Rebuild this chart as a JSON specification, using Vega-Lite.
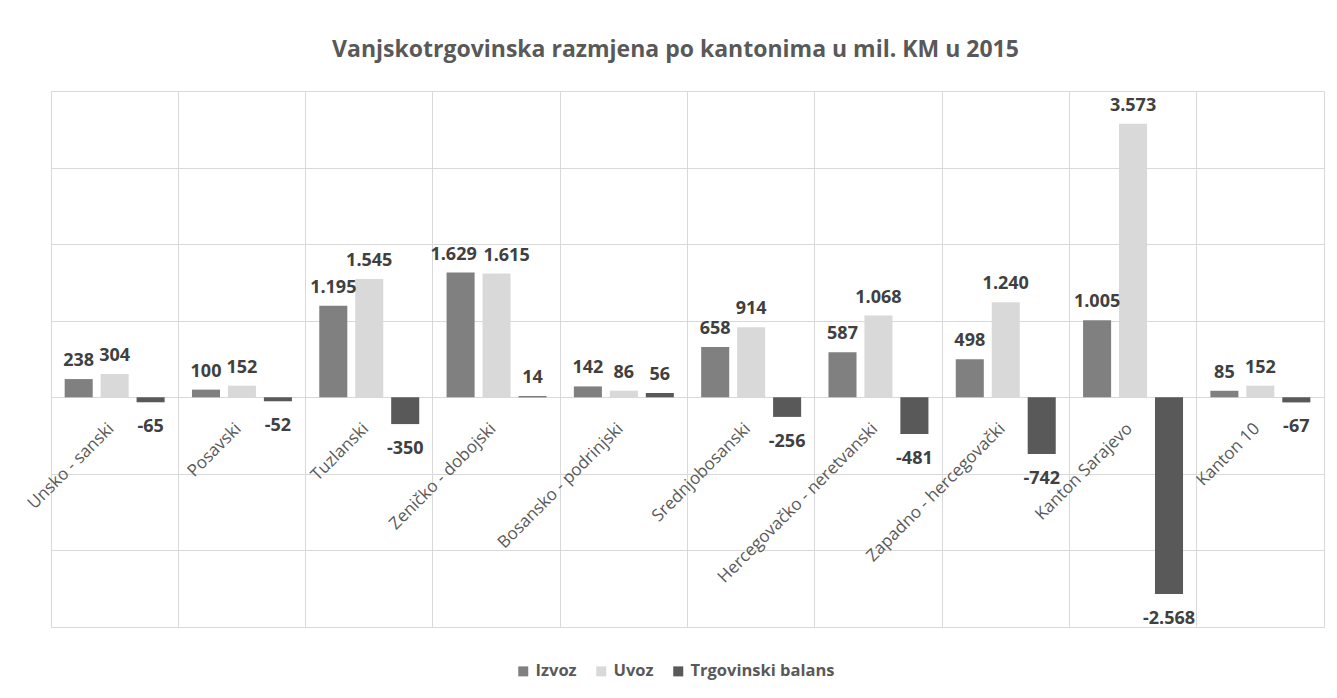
{
  "$schema": "https://vega.github.io/schema/vega-lite/v6.json",
  "width": 1273,
  "height": 536,
  "autosize": {"type": "none"},
  "padding": {"left": 51, "top": 91, "right": 13, "bottom": 71},
  "background": "white",
  "title": {
    "text": "Vanjskotrgovinska razmjena po kantonima u mil. KM u 2015",
    "anchor": "middle",
    "dx": -12,
    "offset": 29,
    "font": "Open Sans",
    "fontSize": 23,
    "fontWeight": "bold",
    "color": "#595959"
  },
  "data": {
    "values": [
      {"kanton": "Unsko - sanski", "serija": "Izvoz", "vrijednost": 238},
      {"kanton": "Unsko - sanski", "serija": "Uvoz", "vrijednost": 304},
      {"kanton": "Unsko - sanski", "serija": "Trgovinski balans", "vrijednost": -65},
      {"kanton": "Posavski", "serija": "Izvoz", "vrijednost": 100},
      {"kanton": "Posavski", "serija": "Uvoz", "vrijednost": 152},
      {"kanton": "Posavski", "serija": "Trgovinski balans", "vrijednost": -52},
      {"kanton": "Tuzlanski", "serija": "Izvoz", "vrijednost": 1195},
      {"kanton": "Tuzlanski", "serija": "Uvoz", "vrijednost": 1545},
      {"kanton": "Tuzlanski", "serija": "Trgovinski balans", "vrijednost": -350},
      {"kanton": "Zeničko - dobojski", "serija": "Izvoz", "vrijednost": 1629},
      {"kanton": "Zeničko - dobojski", "serija": "Uvoz", "vrijednost": 1615},
      {"kanton": "Zeničko - dobojski", "serija": "Trgovinski balans", "vrijednost": 14},
      {"kanton": "Bosansko - podrinjski", "serija": "Izvoz", "vrijednost": 142},
      {"kanton": "Bosansko - podrinjski", "serija": "Uvoz", "vrijednost": 86},
      {"kanton": "Bosansko - podrinjski", "serija": "Trgovinski balans", "vrijednost": 56},
      {"kanton": "Srednjobosanski", "serija": "Izvoz", "vrijednost": 658},
      {"kanton": "Srednjobosanski", "serija": "Uvoz", "vrijednost": 914},
      {"kanton": "Srednjobosanski", "serija": "Trgovinski balans", "vrijednost": -256},
      {"kanton": "Hercegovačko - neretvanski", "serija": "Izvoz", "vrijednost": 587},
      {"kanton": "Hercegovačko - neretvanski", "serija": "Uvoz", "vrijednost": 1068},
      {"kanton": "Hercegovačko - neretvanski", "serija": "Trgovinski balans", "vrijednost": -481},
      {"kanton": "Zapadno - hercegovački", "serija": "Izvoz", "vrijednost": 498},
      {"kanton": "Zapadno - hercegovački", "serija": "Uvoz", "vrijednost": 1240},
      {"kanton": "Zapadno - hercegovački", "serija": "Trgovinski balans", "vrijednost": -742},
      {"kanton": "Kanton Sarajevo", "serija": "Izvoz", "vrijednost": 1005},
      {"kanton": "Kanton Sarajevo", "serija": "Uvoz", "vrijednost": 3573},
      {"kanton": "Kanton Sarajevo", "serija": "Trgovinski balans", "vrijednost": -2568},
      {"kanton": "Kanton 10", "serija": "Izvoz", "vrijednost": 85},
      {"kanton": "Kanton 10", "serija": "Uvoz", "vrijednost": 152},
      {"kanton": "Kanton 10", "serija": "Trgovinski balans", "vrijednost": -67}
    ]
  },
  "encoding": {
    "x": {
      "field": "kanton",
      "type": "nominal",
      "sort": null,
      "scale": {"paddingInner": 0, "paddingOuter": 0},
      "axis": {
        "title": null,
        "orient": "bottom",
        "offset": -230,
        "bandPosition": 0,
        "grid": true,
        "gridColor": "#D9D9D9",
        "gridWidth": 1,
        "ticks": false,
        "domain": true,
        "domainColor": "#D9D9D9",
        "labelAngle": -45,
        "labelAlign": "right",
        "labelBaseline": "top",
        "labelPadding": 23,
        "labelOffset": -9,
        "labelFont": "Open Sans",
        "labelFontSize": 17,
        "labelColor": "#595959",
        "labelBound": false,
        "labelFlush": false,
        "labelOverlap": false,
        "labelLimit": 400
      }
    },
    "xOffset": {
      "field": "serija",
      "type": "nominal",
      "sort": ["Izvoz", "Uvoz", "Trgovinski balans"],
      "scale": {"paddingInner": 0.22, "paddingOuter": 0.38}
    },
    "y": {
      "field": "vrijednost",
      "type": "quantitative",
      "scale": {"domain": [-3000, 4000], "nice": false, "zero": false},
      "axis": {
        "title": null,
        "labels": false,
        "ticks": false,
        "domain": false,
        "values": [-3000, -2000, -1000, 0, 1000, 2000, 3000, 4000],
        "grid": true,
        "gridColor": "#D9D9D9",
        "gridWidth": 1
      }
    }
  },
  "layer": [
    {
      "mark": {"type": "bar"},
      "encoding": {
        "color": {
          "field": "serija",
          "type": "nominal",
          "sort": ["Izvoz", "Uvoz", "Trgovinski balans"],
          "scale": {
            "domain": ["Izvoz", "Uvoz", "Trgovinski balans"],
            "range": ["#808080", "#D9D9D9", "#595959"]
          },
          "legend": {
            "title": null,
            "orient": "none",
            "direction": "horizontal",
            "legendX": 464,
            "legendY": 572,
            "symbolType": "square",
            "symbolSize": 100,
            "symbolStrokeWidth": 0,
            "labelFont": "Open Sans",
            "labelFontSize": 16.5,
            "labelFontWeight": "bold",
            "labelColor": "#595959",
            "labelOffset": 4,
            "columnPadding": 16
          }
        }
      }
    },
    {
      "transform": [{"filter": "datum.vrijednost >= 0 && !(datum.kanton == 'Zeničko - dobojski' && datum.serija != 'Trgovinski balans')"}],
      "mark": {
        "type": "text",
        "baseline": "bottom",
        "dy": -9,
        "font": "Open Sans",
        "fontSize": 18,
        "fontWeight": "bold",
        "color": "#404040"
      },
      "encoding": {
        "text": {"field": "vrijednost", "type": "quantitative", "format": ",d"}
      }
    },
    {
      "transform": [{"filter": "datum.kanton == 'Zeničko - dobojski' && datum.serija == 'Izvoz'"}],
      "mark": {
        "type": "text",
        "baseline": "bottom",
        "dy": -9,
        "dx": -7,
        "font": "Open Sans",
        "fontSize": 18,
        "fontWeight": "bold",
        "color": "#404040"
      },
      "encoding": {
        "text": {"field": "vrijednost", "type": "quantitative", "format": ",d"}
      }
    },
    {
      "transform": [{"filter": "datum.kanton == 'Zeničko - dobojski' && datum.serija == 'Uvoz'"}],
      "mark": {
        "type": "text",
        "baseline": "bottom",
        "dy": -9,
        "dx": 10,
        "font": "Open Sans",
        "fontSize": 18,
        "fontWeight": "bold",
        "color": "#404040"
      },
      "encoding": {
        "text": {"field": "vrijednost", "type": "quantitative", "format": ",d"}
      }
    },
    {
      "transform": [{"filter": "datum.vrijednost < 0"}],
      "mark": {
        "type": "text",
        "baseline": "top",
        "dy": 16,
        "font": "Open Sans",
        "fontSize": 18,
        "fontWeight": "bold",
        "color": "#404040"
      },
      "encoding": {
        "text": {"field": "vrijednost", "type": "quantitative", "format": ",d"}
      }
    }
  ],
  "config": {
    "view": {"stroke": "#D9D9D9", "strokeWidth": 1},
    "locale": {
      "number": {
        "decimal": ",",
        "thousands": ".",
        "grouping": [3],
        "currency": ["", ""],
        "minus": "-"
      }
    }
  }
}
